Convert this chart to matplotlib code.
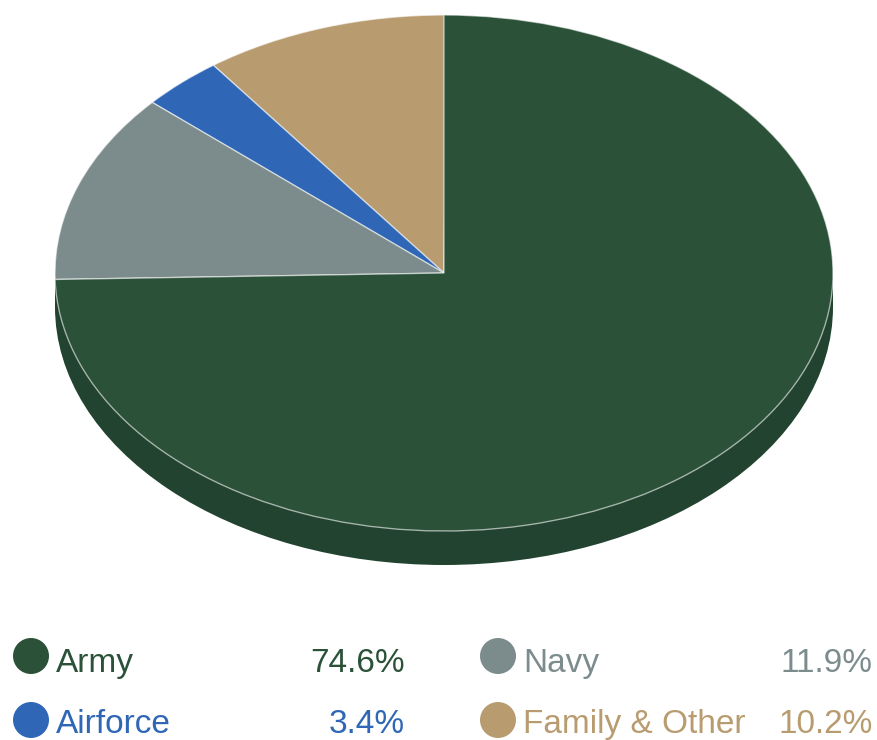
import matplotlib
matplotlib.use("Agg")
import matplotlib.pyplot as plt
from matplotlib.patches import Circle, Ellipse, Rectangle, Wedge

categories = ["Army", "Navy", "Airforce", "Family & Other"]
shares = [74.6, 11.9, 3.4, 10.2]
colors = ["#2b5239", "#7c8c8d", "#2f67b6", "#b89c70"]
side_color = "#22432f"

W, H = 878, 740
CX, CY, RX, RY = 444, 273, 389, 258
DEPTH = 34 / RY

plt.rcParams["font.family"] = ["Liberation Sans", "DejaVu Sans"]
fig = plt.figure(figsize=(W / 100, H / 100), dpi=100, facecolor="white")

# The unit circle of the pie axes is stretched into the tilted ellipse.
ax = fig.add_axes([(CX - RX) / W, 1 - (CY + RY) / H, 2 * RX / W, 2 * RY / H])
ax.set_xlim(-1, 1)
ax.set_ylim(-1, 1)
ax.axis("off")

# Side wall: the outline pushed down, plus a band joining the two outlines.
ax.add_patch(Ellipse((0, -DEPTH), 2, 2, facecolor=side_color, edgecolor="none", clip_on=False))
ax.add_patch(Rectangle((-1, -DEPTH), 2, DEPTH, facecolor=side_color, edgecolor="none",
                       clip_on=False))

# Top face, clockwise from twelve o'clock. Percentages are taken as they stand;
# the first slice is painted last so it keeps a clean edge at the top.
starts = [sum(shares[:i]) for i in range(len(shares))]
for i in reversed(range(len(shares))):
    theta2 = 90 - starts[i] * 3.6
    theta1 = theta2 - shares[i] * 3.6
    ax.add_patch(Wedge((0, 0), 1, theta1, theta2, facecolor=colors[i],
                       edgecolor=(1, 1, 1, 0.6), linewidth=0.95, clip_on=False))

# Two-column legend in pixel coordinates.
lg = fig.add_axes([0, 0, 1, 1])
lg.set_xlim(0, W)
lg.set_ylim(H, 0)
lg.axis("off")
lg.patch.set_alpha(0)

marker_x = [31, 498, 31, 498]
label_x = [56, 523, 56, 523]
value_x = [405, 873, 405, 873]
row_y = [656, 656, 720, 720]
baseline_y = [672, 672, 733, 733]

for i, name in enumerate(categories):
    lg.add_patch(Circle((marker_x[i], row_y[i]), 18, facecolor=colors[i], edgecolor="none",
                        clip_on=False))
    lg.text(label_x[i], baseline_y[i], name, color=colors[i], fontsize=24,
            ha="left", va="baseline")
    lg.text(value_x[i], baseline_y[i], f"{shares[i]}%", color=colors[i], fontsize=24,
            ha="right", va="baseline")

fig.savefig("out.png", dpi=100, facecolor="white")
